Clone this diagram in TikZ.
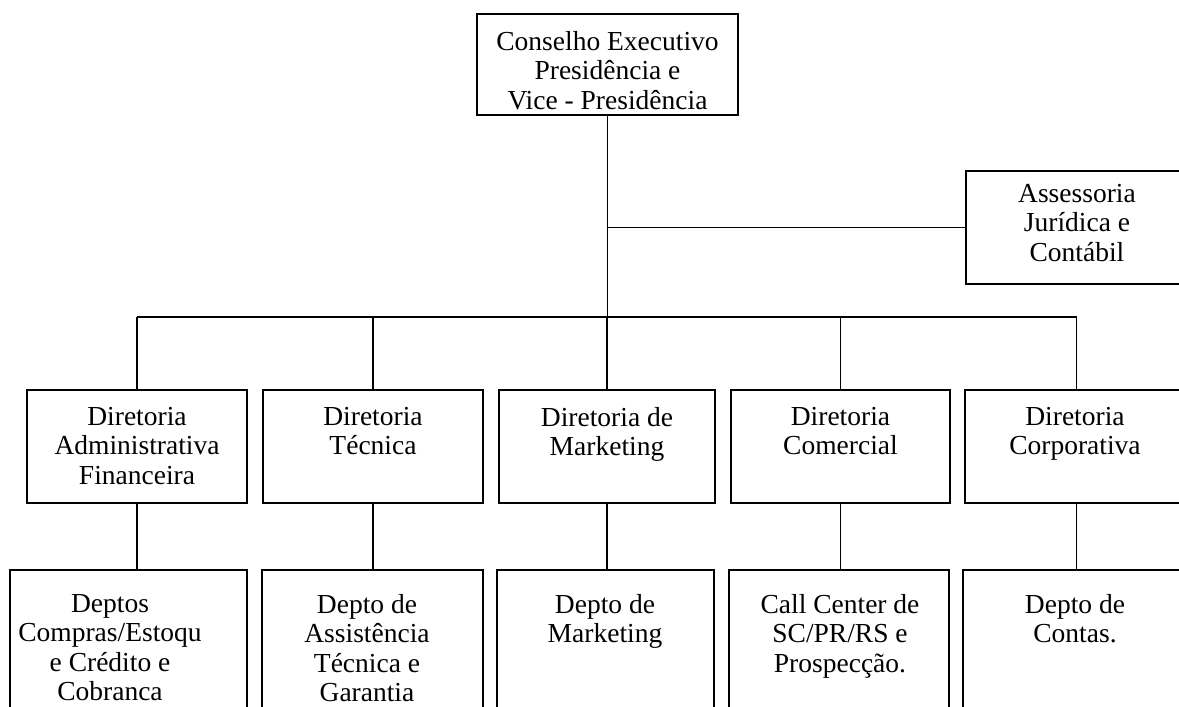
\documentclass[tikz,border=0pt]{standalone}
\usepackage{fontspec}
\setmainfont{Liberation Serif}
\begin{document}
\begin{tikzpicture}[x=1pt,y=-1pt,
  box/.style={draw,line width=2pt,rectangle,inner sep=0pt},
  lbl/.style={anchor=north,align=center,inner sep=0pt,font=\fontsize{27.5}{29.5}\selectfont},
  conn/.style={line width=1.8pt}]
\useasboundingbox (0,0) rectangle (1179,707);
\clip (0,0) rectangle (1179,707);
% boxes
\node[box,minimum width=261pt,minimum height=101pt] (ce) at (607.5,64.5) {};
\node[box,minimum width=222pt,minimum height=113pt] (as) at (1077,227.5) {};
\node[box,minimum width=220pt,minimum height=113pt] (d1) at (137,446.5) {};
\node[box,minimum width=220pt,minimum height=113pt] (d2) at (373,446.5) {};
\node[box,minimum width=216pt,minimum height=113pt] (d3) at (607,446.5) {};
\node[box,minimum width=219pt,minimum height=113pt] (d4) at (840.5,446.5) {};
\node[box,minimum width=223pt,minimum height=113pt] (d5) at (1076.5,446.5) {};
\node[box,minimum width=237pt,minimum height=170pt] (p1) at (128.5,655) {};
\node[box,minimum width=221pt,minimum height=170pt] (p2) at (372.5,655) {};
\node[box,minimum width=217pt,minimum height=170pt] (p3) at (605.5,655) {};
\node[box,minimum width=220pt,minimum height=170pt] (p4) at (839,655) {};
\node[box,minimum width=225pt,minimum height=170pt] (p5) at (1075.5,655) {};
% labels
\node[lbl] (tce) at (607.5,31) {Conselho Executivo\\Presidência e\\Vice - Presidência};
\node[lbl] (tas) at (1077,184) {Assessoria\\Jurídica e\\Contábil};
\node[lbl] (td1) at (137,407) {Diretoria\\Administrativa\\Financeira};
\node[lbl] (td2) at (373,407) {Diretoria\\Técnica};
\node[lbl] (td3) at (607,407) {Diretoria de\\Marketing};
\node[lbl] (td4) at (840.5,407) {Diretoria\\Comercial};
\node[lbl] (td5) at (1075,407) {Diretoria\\Corporativa};
\node[lbl] (tp1) at (110,594) {Deptos\\Compras/Estoqu\\e Crédito e\\Cobranca};
\node[lbl] (tp2) at (367,594) {Depto de\\Assistência\\Técnica e\\Garantia};
\node[lbl] (tp3) at (605,594) {Depto de\\Marketing};
\node[lbl] (tp4) at (840,594) {Call Center de\\SC/PR/RS e\\Prospecção.};
\node[lbl] (tp5) at (1075,594) {Depto de\\Contas.};
% connectors
\coordinate (bus) at (137,317);
\draw[conn] (ce.south) -- (ce.south |- bus);
\draw[conn] (ce.south |- as.west) -- (as.west);
\draw[conn] (d1.north |- bus) -- (d5.north |- bus);
\foreach \n in {d1,d2,d3,d4,d5} {\draw[conn] (\n.north) -- (\n.north |- bus);}
\draw[conn] (d1.south) -- (d1.south |- p1.north);
\draw[conn] (d2.south) -- (d2.south |- p2.north);
\draw[conn] (d3.south) -- (d3.south |- p3.north);
\draw[conn] (d4.south) -- (d4.south |- p4.north);
\draw[conn] (d5.south) -- (d5.south |- p5.north);
\end{tikzpicture}
\end{document}
